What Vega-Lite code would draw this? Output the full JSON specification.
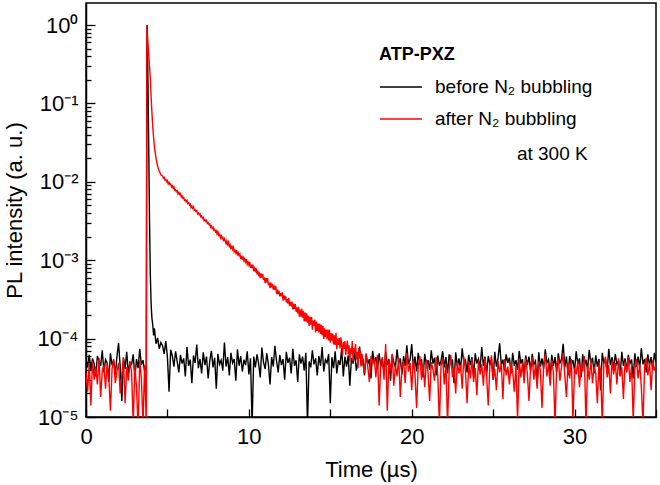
{
"$schema":"https://vega.github.io/schema/vega-lite/v6.json",
"width":570,"height":414,
"autosize":{"type":"none"},
"padding":{"left":86,"top":3,"right":4,"bottom":68},
"config":{"view":{"stroke":"#000","strokeWidth":1.5},"font":"Liberation Sans",
"axis":{"grid":false,"domainColor":"#000","domainWidth":1.5,"tickColor":"#000","tickWidth":1.3,"labelColor":"#000","titleColor":"#000","labelFontSize":22,"titleFontSize":22,"titleFontWeight":"normal","labelFlush":false,"labelOverlap":false},
"legend":{"labelColor":"#000","titleColor":"#000"}},
"datasets":{
"before":[
{"t":0.0,"v":5.1e-5},{"t":0.1,"v":4.3e-5},{"t":0.2,"v":6.2e-5},{"t":0.3,"v":3.9e-5},{"t":0.4,"v":5.6e-5},{"t":0.5,"v":4.8e-5},{"t":0.6,"v":3.3e-5},{"t":0.7,"v":6.0e-5},{"t":0.8,"v":5.2e-5},{"t":0.9,"v":4.5e-5},
{"t":1.0,"v":7.1e-5},{"t":1.1,"v":3.7e-5},{"t":1.2,"v":5.4e-5},{"t":1.3,"v":4.9e-5},{"t":1.4,"v":2.8e-5},{"t":1.5,"v":6.5e-5},{"t":1.6,"v":4.6e-5},{"t":1.7,"v":5.3e-5},{"t":1.8,"v":3.5e-5},{"t":1.9,"v":5.9e-5},
{"t":2.0,"v":8.8e-5},{"t":2.1,"v":4.4e-5},{"t":2.2,"v":1.6e-5},{"t":2.3,"v":5.7e-5},{"t":2.4,"v":4.1e-5},{"t":2.5,"v":6.8e-5},{"t":2.6,"v":3.6e-5},{"t":2.7,"v":5.0e-5},{"t":2.8,"v":4.7e-5},{"t":2.9,"v":6.3e-5},
{"t":3.0,"v":3.1e-5},{"t":3.1,"v":5.5e-5},{"t":3.2,"v":4.2e-5},{"t":3.3,"v":7.4e-5},{"t":3.4,"v":4.6e-5},{"t":3.5,"v":5.3e-5},{"t":3.6,"v":3.8e-5},
{"t":3.70,"v":4.5e-5},{"t":3.74,"v":0.5},{"t":3.76,"v":1.0},{"t":3.80,"v":0.22},{"t":3.85,"v":0.03},{"t":3.90,"v":3.2e-3},{"t":3.95,"v":6.5e-4},{"t":4.00,"v":2.7e-4},{"t":4.05,"v":1.8e-4},{"t":4.10,"v":1.5e-4},{"t":4.15,"v":1.1e-4},{"t":4.20,"v":1.35e-4},{"t":4.30,"v":8.6e-5},{"t":4.40,"v":1.02e-4},{"t":4.50,"v":7.4e-5},{"t":4.60,"v":8.9e-5},
{"t":4.7,"v":8.1e-5},{"t":4.8,"v":6.4e-5},{"t":4.9,"v":9.3e-5},{"t":5.0,"v":5.8e-5},{"t":5.1,"v":2.1e-5},{"t":5.2,"v":7.2e-5},{"t":5.3,"v":6.0e-5},{"t":5.4,"v":4.4e-5},{"t":5.5,"v":6.9e-5},{"t":5.6,"v":5.1e-5},
{"t":5.7,"v":3.7e-5},{"t":5.8,"v":6.2e-5},{"t":5.9,"v":4.8e-5},{"t":6.0,"v":5.6e-5},{"t":6.1,"v":3.3e-5},{"t":6.2,"v":7.8e-5},{"t":6.3,"v":4.5e-5},{"t":6.4,"v":5.4e-5},{"t":6.5,"v":2.7e-5},{"t":6.6,"v":6.1e-5},
{"t":6.7,"v":4.9e-5},{"t":6.8,"v":8.4e-5},{"t":6.9,"v":4.2e-5},{"t":7.0,"v":5.5e-5},{"t":7.1,"v":3.6e-5},{"t":7.2,"v":6.7e-5},{"t":7.3,"v":4.6e-5},{"t":7.4,"v":5.9e-5},{"t":7.5,"v":3.1e-5},{"t":7.6,"v":5.2e-5},
{"t":7.7,"v":7.0e-5},{"t":7.8,"v":4.3e-5},{"t":7.9,"v":5.7e-5},{"t":8.0,"v":2.3e-5},{"t":8.1,"v":6.4e-5},{"t":8.2,"v":4.7e-5},{"t":8.3,"v":5.3e-5},{"t":8.4,"v":3.9e-5},{"t":8.5,"v":8.9e-5},{"t":8.6,"v":4.4e-5},
{"t":8.7,"v":5.8e-5},{"t":8.8,"v":3.4e-5},{"t":8.9,"v":6.6e-5},{"t":9.0,"v":4.9e-5},{"t":9.1,"v":5.5e-5},{"t":9.2,"v":2.9e-5},{"t":9.3,"v":7.3e-5},{"t":9.4,"v":4.5e-5},{"t":9.5,"v":6.0e-5},{"t":9.6,"v":3.8e-5},
{"t":9.7,"v":5.4e-5},{"t":9.8,"v":4.6e-5},{"t":9.9,"v":6.9e-5},{"t":10.0,"v":3.5e-5},{"t":10.1,"v":5.6e-5},{"t":10.2,"v":8e-6},{"t":10.3,"v":5.9e-5},{"t":10.4,"v":4.3e-5},{"t":10.5,"v":6.3e-5},{"t":10.6,"v":4.8e-5},
{"t":10.7,"v":3.2e-5},{"t":10.8,"v":7.7e-5},{"t":10.9,"v":5.0e-5},{"t":11.0,"v":4.1e-5},{"t":11.1,"v":6.5e-5},{"t":11.2,"v":4.7e-5},{"t":11.3,"v":2.6e-5},{"t":11.4,"v":5.8e-5},{"t":11.5,"v":4.4e-5},{"t":11.6,"v":8.1e-5},
{"t":11.7,"v":5.2e-5},{"t":11.8,"v":3.7e-5},{"t":11.9,"v":6.2e-5},{"t":12.0,"v":4.6e-5},{"t":12.1,"v":5.5e-5},{"t":12.2,"v":3.0e-5},{"t":12.3,"v":6.8e-5},{"t":12.4,"v":4.9e-5},{"t":12.5,"v":5.7e-5},{"t":12.6,"v":3.6e-5},
{"t":12.7,"v":7.4e-5},{"t":12.8,"v":4.5e-5},{"t":12.9,"v":5.3e-5},{"t":13.0,"v":2.8e-5},{"t":13.1,"v":6.3e-5},{"t":13.2,"v":4.8e-5},{"t":13.3,"v":5.9e-5},{"t":13.4,"v":3.9e-5},{"t":13.5,"v":6.6e-5},{"t":13.6,"v":8e-6},
{"t":13.7,"v":5.1e-5},{"t":13.8,"v":4.3e-5},{"t":13.9,"v":7.1e-5},{"t":14.0,"v":4.7e-5},{"t":14.1,"v":5.6e-5},{"t":14.2,"v":3.4e-5},{"t":14.3,"v":6.0e-5},{"t":14.4,"v":4.5e-5},{"t":14.5,"v":7.8e-5},{"t":14.6,"v":3.8e-5},
{"t":14.7,"v":5.4e-5},{"t":14.8,"v":4.9e-5},{"t":14.9,"v":6.4e-5},{"t":15.0,"v":1.5e-5},{"t":15.1,"v":5.8e-5},{"t":15.2,"v":4.2e-5},{"t":15.3,"v":6.9e-5},{"t":15.4,"v":3.6e-5},{"t":15.5,"v":5.3e-5},{"t":15.6,"v":4.6e-5},
{"t":15.7,"v":7.5e-5},{"t":15.8,"v":3.3e-5},{"t":15.9,"v":5.9e-5},{"t":16.0,"v":4.4e-5},{"t":16.1,"v":6.1e-5},{"t":16.2,"v":2.5e-5},{"t":16.3,"v":5.7e-5},{"t":16.4,"v":4.8e-5},{"t":16.5,"v":6.7e-5},{"t":16.6,"v":3.9e-5},
{"t":16.7,"v":5.2e-5},{"t":16.8,"v":7.9e-5},{"t":16.9,"v":4.5e-5},{"t":17.0,"v":5.6e-5},{"t":17.1,"v":3.4e-5},{"t":17.2,"v":6.3e-5},{"t":17.3,"v":4.7e-5},{"t":17.4,"v":5.5e-5},{"t":17.5,"v":3.1e-5},{"t":17.6,"v":7.0e-5},
{"t":17.7,"v":4.9e-5},{"t":17.8,"v":5.8e-5},{"t":17.9,"v":4.1e-5},{"t":18.0,"v":6.5e-5},{"t":18.1,"v":4.4e-5},{"t":18.2,"v":5.3e-5},{"t":18.3,"v":3.7e-5},{"t":18.4,"v":6.8e-5},{"t":18.5,"v":4.6e-5},{"t":18.6,"v":5.5e-5},
{"t":18.7,"v":2.9e-5},{"t":18.8,"v":6.2e-5},{"t":18.9,"v":5.0e-5},{"t":19.0,"v":4.3e-5},{"t":19.1,"v":7.3e-5},{"t":19.2,"v":4.8e-5},{"t":19.3,"v":5.6e-5},{"t":19.4,"v":3.5e-5},{"t":19.5,"v":6.0e-5},{"t":19.6,"v":4.5e-5},
{"t":19.7,"v":8.2e-5},{"t":19.8,"v":4.7e-5},{"t":19.9,"v":5.4e-5},{"t":20.0,"v":8.5e-5},{"t":20.1,"v":4.2e-5},{"t":20.2,"v":5.9e-5},{"t":20.3,"v":3.8e-5},{"t":20.4,"v":6.6e-5},{"t":20.5,"v":4.9e-5},{"t":20.6,"v":5.5e-5},
{"t":20.7,"v":3.2e-5},{"t":20.8,"v":6.4e-5},{"t":20.9,"v":4.6e-5},{"t":21.0,"v":5.3e-5},{"t":21.1,"v":4.0e-5},{"t":21.2,"v":7.1e-5},{"t":21.3,"v":4.8e-5},{"t":21.4,"v":5.7e-5},{"t":21.5,"v":3.4e-5},{"t":21.6,"v":6.1e-5},
{"t":21.7,"v":4.5e-5},{"t":21.8,"v":5.2e-5},{"t":21.9,"v":6.9e-5},{"t":22.0,"v":4.3e-5},{"t":22.1,"v":5.8e-5},{"t":22.2,"v":3.6e-5},{"t":22.3,"v":6.3e-5},{"t":22.4,"v":4.7e-5},{"t":22.5,"v":5.4e-5},{"t":22.6,"v":2.7e-5},
{"t":22.7,"v":6.7e-5},{"t":22.8,"v":4.4e-5},{"t":22.9,"v":5.6e-5},{"t":23.0,"v":4.1e-5},{"t":23.1,"v":7.5e-5},{"t":23.2,"v":4.9e-5},{"t":23.3,"v":5.3e-5},{"t":23.4,"v":3.7e-5},{"t":23.5,"v":6.2e-5},{"t":23.6,"v":4.6e-5},
{"t":23.7,"v":5.8e-5},{"t":23.8,"v":3.3e-5},{"t":23.9,"v":6.5e-5},{"t":24.0,"v":4.8e-5},{"t":24.1,"v":5.5e-5},{"t":24.2,"v":4.2e-5},{"t":24.3,"v":7.8e-5},{"t":24.4,"v":4.5e-5},{"t":24.5,"v":5.9e-5},{"t":24.6,"v":3.5e-5},
{"t":24.7,"v":6.0e-5},{"t":24.8,"v":4.7e-5},{"t":24.9,"v":5.2e-5},{"t":25.0,"v":3.0e-5},{"t":25.1,"v":6.8e-5},{"t":25.2,"v":4.4e-5},{"t":25.3,"v":5.6e-5},{"t":25.4,"v":8.8e-5},{"t":25.5,"v":4.6e-5},{"t":25.6,"v":5.4e-5},
{"t":25.7,"v":3.9e-5},{"t":25.8,"v":6.3e-5},{"t":25.9,"v":4.9e-5},{"t":26.0,"v":5.7e-5},{"t":26.1,"v":3.6e-5},{"t":26.2,"v":6.6e-5},{"t":26.3,"v":4.5e-5},{"t":26.4,"v":5.3e-5},{"t":26.5,"v":4.0e-5},{"t":26.6,"v":7.0e-5},
{"t":26.7,"v":4.8e-5},{"t":26.8,"v":5.5e-5},{"t":26.9,"v":3.3e-5},{"t":27.0,"v":6.1e-5},{"t":27.1,"v":4.6e-5},{"t":27.2,"v":5.9e-5},{"t":27.3,"v":3.8e-5},{"t":27.4,"v":6.4e-5},{"t":27.5,"v":4.7e-5},{"t":27.6,"v":5.2e-5},
{"t":27.7,"v":2.6e-5},{"t":27.8,"v":6.7e-5},{"t":27.9,"v":4.4e-5},{"t":28.0,"v":5.6e-5},{"t":28.1,"v":4.1e-5},{"t":28.2,"v":7.3e-5},{"t":28.3,"v":4.9e-5},{"t":28.4,"v":5.4e-5},{"t":28.5,"v":3.5e-5},{"t":28.6,"v":6.2e-5},
{"t":28.7,"v":4.5e-5},{"t":28.8,"v":5.8e-5},{"t":28.9,"v":3.7e-5},{"t":29.0,"v":6.5e-5},{"t":29.1,"v":4.8e-5},{"t":29.2,"v":5.5e-5},{"t":29.3,"v":8.6e-5},{"t":29.4,"v":4.3e-5},{"t":29.5,"v":5.9e-5},{"t":29.6,"v":3.4e-5},
{"t":29.7,"v":6.0e-5},{"t":29.8,"v":4.6e-5},{"t":29.9,"v":5.3e-5},{"t":30.0,"v":3.9e-5},{"t":30.1,"v":6.9e-5},{"t":30.2,"v":4.7e-5},{"t":30.3,"v":5.6e-5},{"t":30.4,"v":3.2e-5},{"t":30.5,"v":6.3e-5},{"t":30.6,"v":4.5e-5},
{"t":30.7,"v":5.4e-5},{"t":30.8,"v":4.0e-5},{"t":30.9,"v":7.2e-5},{"t":31.0,"v":4.8e-5},{"t":31.1,"v":5.7e-5},{"t":31.2,"v":3.6e-5},{"t":31.3,"v":6.1e-5},{"t":31.4,"v":4.4e-5},{"t":31.5,"v":5.5e-5},{"t":31.6,"v":2.2e-5},
{"t":31.7,"v":6.6e-5},{"t":31.8,"v":4.9e-5},{"t":31.9,"v":5.3e-5},{"t":32.0,"v":3.8e-5},{"t":32.1,"v":7.4e-5},{"t":32.2,"v":4.6e-5},{"t":32.3,"v":5.8e-5},{"t":32.4,"v":4.2e-5},{"t":32.5,"v":6.4e-5},{"t":32.6,"v":4.7e-5},
{"t":32.7,"v":5.2e-5},{"t":32.8,"v":3.4e-5},{"t":32.9,"v":6.8e-5},{"t":33.0,"v":4.5e-5},{"t":33.1,"v":5.6e-5},{"t":33.2,"v":3.9e-5},{"t":33.3,"v":6.2e-5},{"t":33.4,"v":4.8e-5},{"t":33.5,"v":5.4e-5},{"t":33.6,"v":3.1e-5},
{"t":33.7,"v":6.5e-5},{"t":33.8,"v":4.4e-5},{"t":33.9,"v":5.9e-5},{"t":34.0,"v":4.2e-5},{"t":34.1,"v":7.6e-5},{"t":34.2,"v":4.7e-5},{"t":34.3,"v":5.5e-5},{"t":34.4,"v":3.7e-5},{"t":34.5,"v":6.3e-5},{"t":34.6,"v":4.6e-5},
{"t":34.7,"v":5.8e-5},{"t":34.8,"v":4.0e-5},{"t":34.9,"v":6.6e-5},{"t":35.0,"v":5.0e-5}
],
"after":[
{"t":0.0,"v":3.6e-5},{"t":0.1,"v":2.1e-5},{"t":0.2,"v":4.8e-5},{"t":0.3,"v":1.4e-5},{"t":0.4,"v":5.2e-5},{"t":0.5,"v":3.0e-5},{"t":0.6,"v":4.4e-5},{"t":0.7,"v":2.6e-5},{"t":0.8,"v":5.7e-5},{"t":0.9,"v":1.8e-5},
{"t":1.0,"v":3.9e-5},{"t":1.1,"v":4.6e-5},{"t":1.2,"v":2.3e-5},{"t":1.3,"v":5.0e-5},{"t":1.4,"v":3.3e-5},{"t":1.5,"v":1.2e-5},{"t":1.6,"v":4.1e-5},{"t":1.7,"v":5.5e-5},{"t":1.8,"v":2.7e-5},{"t":1.9,"v":3.8e-5},
{"t":2.0,"v":4.9e-5},{"t":2.1,"v":2.0e-5},{"t":2.2,"v":3.4e-5},{"t":2.3,"v":5.8e-5},{"t":2.4,"v":1.5e-5},{"t":2.5,"v":4.3e-5},{"t":2.6,"v":2.9e-5},{"t":2.7,"v":5.1e-5},{"t":2.8,"v":3.7e-5},{"t":2.9,"v":8e-6},
{"t":3.0,"v":4.5e-5},{"t":3.1,"v":2.4e-5},{"t":3.2,"v":7e-6},{"t":3.3,"v":5.3e-5},{"t":3.4,"v":3.1e-5},{"t":3.5,"v":8e-6},{"t":3.6,"v":4.6e-5},
{"t":3.70,"v":8e-6},{"t":3.74,"v":1.0},{"t":3.76,"v":0.8},{"t":3.80,"v":0.6},{"t":3.85,"v":0.42},{"t":3.90,"v":0.30},{"t":3.95,"v":0.21},{"t":4.00,"v":0.12},{"t":4.05,"v":0.075},{"t":4.10,"v":0.05},{"t":4.15,"v":0.037},{"t":4.20,"v":0.028},{"t":4.30,"v":0.020},{"t":4.40,"v":0.0158},{"t":4.50,"v":0.0136},{"t":4.60,"v":0.0123},
{"t":4.70,"v":1.19e-2},{"t":4.75,"v":1.11e-2},{"t":4.80,"v":1.14e-2},{"t":4.85,"v":1.05e-2},{"t":4.90,"v":1.07e-2},{"t":4.95,"v":1.01e-2},{"t":5.00,"v":1.04e-2},{"t":5.05,"v":9.4e-3},{"t":5.10,"v":9.8e-3},{"t":5.15,"v":9.2e-3},
{"t":5.20,"v":9.4e-3},{"t":5.25,"v":8.6e-3},{"t":5.30,"v":8.9e-3},{"t":5.35,"v":8.3e-3},{"t":5.40,"v":8.6e-3},{"t":5.45,"v":7.8e-3},{"t":5.50,"v":7.9e-3},{"t":5.55,"v":7.5e-3},{"t":5.60,"v":7.7e-3},{"t":5.65,"v":7.0e-3},
{"t":5.70,"v":7.3e-3},{"t":5.75,"v":6.9e-3},{"t":5.80,"v":7.1e-3},{"t":5.85,"v":6.4e-3},{"t":5.90,"v":6.6e-3},{"t":5.95,"v":6.2e-3},{"t":6.00,"v":6.3e-3},{"t":6.05,"v":5.8e-3},{"t":6.10,"v":5.9e-3},{"t":6.15,"v":5.6e-3},
{"t":6.20,"v":5.8e-3},{"t":6.25,"v":5.3e-3},{"t":6.30,"v":5.4e-3},{"t":6.35,"v":5.1e-3},{"t":6.40,"v":5.2e-3},{"t":6.45,"v":4.7e-3},{"t":6.50,"v":4.9e-3},{"t":6.55,"v":4.6e-3},{"t":6.60,"v":4.8e-3},{"t":6.65,"v":4.35e-3},
{"t":6.70,"v":4.4e-3},{"t":6.75,"v":4.2e-3},{"t":6.80,"v":4.3e-3},{"t":6.85,"v":3.9e-3},{"t":6.90,"v":4.0e-3},{"t":6.95,"v":3.8e-3},{"t":7.00,"v":3.9e-3},{"t":7.05,"v":3.57e-3},{"t":7.10,"v":3.66e-3},{"t":7.15,"v":3.44e-3},
{"t":7.20,"v":3.52e-3},{"t":7.25,"v":3.21e-3},{"t":7.30,"v":3.29e-3},{"t":7.35,"v":3.12e-3},{"t":7.40,"v":3.22e-3},{"t":7.45,"v":2.94e-3},{"t":7.50,"v":3.01e-3},{"t":7.55,"v":2.85e-3},{"t":7.60,"v":2.89e-3},{"t":7.65,"v":2.63e-3},
{"t":7.70,"v":2.73e-3},{"t":7.75,"v":2.56e-3},{"t":7.80,"v":2.65e-3},{"t":7.85,"v":2.42e-3},{"t":7.90,"v":2.48e-3},{"t":7.95,"v":2.32e-3},
{"t":8.00,"v":2.38e-3},{"t":8.05,"v":2.16e-3},{"t":8.10,"v":2.31e-3},{"t":8.15,"v":2.08e-3},{"t":8.20,"v":2.13e-3},{"t":8.25,"v":1.94e-3},{"t":8.30,"v":2.11e-3},{"t":8.35,"v":1.90e-3},{"t":8.40,"v":1.96e-3},{"t":8.45,"v":1.74e-3},
{"t":8.50,"v":1.88e-3},{"t":8.55,"v":1.78e-3},{"t":8.60,"v":1.63e-3},{"t":8.65,"v":1.76e-3},{"t":8.70,"v":1.59e-3},{"t":8.75,"v":1.70e-3},{"t":8.80,"v":1.50e-3},{"t":8.85,"v":1.57e-3},{"t":8.90,"v":1.39e-3},{"t":8.95,"v":1.53e-3},
{"t":9.00,"v":1.38e-3},{"t":9.05,"v":1.47e-3},{"t":9.10,"v":1.28e-3},{"t":9.15,"v":1.34e-3},{"t":9.20,"v":1.24e-3},{"t":9.25,"v":1.35e-3},{"t":9.30,"v":1.15e-3},{"t":9.35,"v":1.24e-3},{"t":9.40,"v":1.15e-3},{"t":9.45,"v":1.20e-3},
{"t":9.50,"v":1.03e-3},{"t":9.55,"v":1.14e-3},{"t":9.60,"v":1.02e-3},{"t":9.65,"v":1.12e-3},{"t":9.70,"v":9.8e-4},{"t":9.75,"v":1.04e-3},{"t":9.80,"v":9.5e-4},{"t":9.85,"v":1.03e-3},{"t":9.90,"v":8.9e-4},{"t":9.95,"v":9.5e-4},
{"t":10.00,"v":8.7e-4},{"t":10.05,"v":9.5e-4},{"t":10.10,"v":8.0e-4},{"t":10.15,"v":8.8e-4},{"t":10.20,"v":7.9e-4},{"t":10.25,"v":8.8e-4},{"t":10.30,"v":7.2e-4},{"t":10.35,"v":7.9e-4},{"t":10.40,"v":7.3e-4},{"t":10.45,"v":7.9e-4},
{"t":10.50,"v":6.6e-4},{"t":10.55,"v":7.35e-4},{"t":10.60,"v":6.5e-4},{"t":10.65,"v":6.8e-4},{"t":10.70,"v":5.9e-4},{"t":10.75,"v":6.8e-4},{"t":10.80,"v":6.0e-4},{"t":10.85,"v":6.7e-4},{"t":10.90,"v":5.6e-4},{"t":10.95,"v":6.05e-4},
{"t":11.00,"v":5.1e-4},{"t":11.05,"v":5.9e-4},{"t":11.10,"v":5.2e-4},{"t":11.15,"v":5.9e-4},{"t":11.20,"v":4.8e-4},{"t":11.25,"v":5.2e-4},{"t":11.30,"v":4.4e-4},{"t":11.35,"v":5.2e-4},{"t":11.40,"v":4.5e-4},{"t":11.45,"v":5.0e-4},
{"t":11.50,"v":4.2e-4},{"t":11.55,"v":4.6e-4},{"t":11.60,"v":4.2e-4},{"t":11.65,"v":4.7e-4},{"t":11.70,"v":3.7e-4},{"t":11.75,"v":4.2e-4},{"t":11.80,"v":3.7e-4},{"t":11.85,"v":4.1e-4},{"t":11.90,"v":3.45e-4},{"t":11.95,"v":3.8e-4},
{"t":12.00,"v":3.45e-4},{"t":12.05,"v":3.9e-4},{"t":12.10,"v":3.05e-4},{"t":12.15,"v":3.55e-4},{"t":12.20,"v":3.15e-4},{"t":12.25,"v":3.5e-4},{"t":12.30,"v":2.9e-4},{"t":12.35,"v":3.2e-4},{"t":12.40,"v":2.8e-4},{"t":12.45,"v":3.3e-4},
{"t":12.50,"v":2.6e-4},{"t":12.55,"v":2.95e-4},{"t":12.60,"v":2.7e-4},{"t":12.65,"v":2.95e-4},{"t":12.70,"v":2.35e-4},{"t":12.75,"v":2.8e-4},{"t":12.80,"v":2.4e-4},{"t":12.85,"v":2.75e-4},{"t":12.90,"v":2.2e-4},{"t":12.95,"v":2.5e-4},
{"t":13.00,"v":2.1e-4},{"t":13.05,"v":2.55e-4},{"t":13.10,"v":1.9e-4},{"t":13.15,"v":2.35e-4},{"t":13.20,"v":1.9e-4},{"t":13.25,"v":2.4e-4},{"t":13.30,"v":1.85e-4},{"t":13.35,"v":2.25e-4},{"t":13.40,"v":1.65e-4},{"t":13.45,"v":2.15e-4},
{"t":13.50,"v":1.65e-4},{"t":13.55,"v":2.1e-4},{"t":13.60,"v":1.6e-4},{"t":13.65,"v":1.95e-4},{"t":13.70,"v":1.45e-4},{"t":13.75,"v":1.9e-4},{"t":13.80,"v":1.5e-4},{"t":13.85,"v":1.9e-4},{"t":13.90,"v":1.3e-4},{"t":13.95,"v":1.7e-4},
{"t":14.00,"v":1.45e-4},{"t":14.05,"v":1.75e-4},{"t":14.10,"v":1.2e-4},{"t":14.15,"v":1.65e-4},{"t":14.20,"v":1.25e-4},{"t":14.25,"v":1.55e-4},{"t":14.30,"v":1.2e-4},{"t":14.35,"v":1.55e-4},{"t":14.40,"v":1.15e-4},{"t":14.45,"v":1.5e-4},
{"t":14.50,"v":1.1e-4},{"t":14.55,"v":1.45e-4},{"t":14.60,"v":9.9e-5},{"t":14.65,"v":1.35e-4},{"t":14.70,"v":1.05e-4},{"t":14.75,"v":1.3e-4},{"t":14.80,"v":9.8e-5},{"t":14.85,"v":1.3e-4},{"t":14.90,"v":9.5e-5},{"t":14.95,"v":1.3e-4},
{"t":15.00,"v":8.9e-5},{"t":15.05,"v":1.18e-4},{"t":15.10,"v":9.4e-5},{"t":15.15,"v":1.16e-4},{"t":15.20,"v":8.4e-5},{"t":15.25,"v":1.1e-4},{"t":15.30,"v":8.3e-5},{"t":15.35,"v":1.19e-4},{"t":15.40,"v":7.3e-5},{"t":15.45,"v":1.0e-4},
{"t":15.50,"v":8.3e-5},{"t":15.55,"v":1.02e-4},{"t":15.60,"v":7.5e-5},{"t":15.65,"v":1.04e-4},{"t":15.70,"v":8.3e-5},{"t":15.75,"v":6.1e-5},{"t":15.80,"v":9.0e-5},{"t":15.85,"v":7.4e-5},{"t":15.90,"v":9.3e-5},{"t":15.95,"v":6.2e-5},
{"t":16.00,"v":8.0e-5},{"t":16.05,"v":9.4e-5},{"t":16.10,"v":6.3e-5},{"t":16.15,"v":8.2e-5},{"t":16.20,"v":5.1e-5},{"t":16.25,"v":7.5e-5},{"t":16.30,"v":6.4e-5},{"t":16.35,"v":9.3e-5},{"t":16.40,"v":5.2e-5},{"t":16.45,"v":7.6e-5},
{"t":16.50,"v":6.6e-5},{"t":16.55,"v":8.5e-5},{"t":16.60,"v":5.4e-5},{"t":16.65,"v":6.8e-5},{"t":16.70,"v":4.2e-5},{"t":16.75,"v":7.6e-5},{"t":16.80,"v":5.6e-5},{"t":16.85,"v":7.0e-5},{"t":16.90,"v":4.4e-5},{"t":16.95,"v":6.4e-5},
{"t":17.0,"v":4.8e-5},{"t":17.1,"v":3.6e-5},{"t":17.2,"v":6.5e-5},{"t":17.3,"v":4.4e-5},{"t":17.4,"v":2.8e-5},{"t":17.5,"v":6.0e-5},{"t":17.6,"v":4.7e-5},
{"t":17.7,"v":5.6e-5},{"t":17.8,"v":3.2e-5},{"t":17.9,"v":6.2e-5},{"t":18.0,"v":1.4e-5},{"t":18.1,"v":4.9e-5},{"t":18.2,"v":5.8e-5},{"t":18.3,"v":3.0e-5},{"t":18.4,"v":8.5e-5},{"t":18.5,"v":1.2e-5},{"t":18.6,"v":5.3e-5},
{"t":18.7,"v":3.9e-5},{"t":18.8,"v":6.4e-5},{"t":18.9,"v":2.5e-5},{"t":19.0,"v":4.6e-5},{"t":19.1,"v":3.3e-5},{"t":19.2,"v":5.7e-5},{"t":19.3,"v":1.8e-5},{"t":19.4,"v":4.2e-5},{"t":19.5,"v":5.2e-5},{"t":19.6,"v":2.7e-5},
{"t":19.7,"v":6.6e-5},{"t":19.8,"v":3.8e-5},{"t":19.9,"v":4.9e-5},{"t":20.0,"v":2.2e-5},{"t":20.1,"v":5.5e-5},{"t":20.2,"v":3.5e-5},{"t":20.3,"v":1.3e-5},{"t":20.4,"v":4.4e-5},{"t":20.5,"v":6.0e-5},{"t":20.6,"v":3.0e-5},
{"t":20.7,"v":4.7e-5},{"t":20.8,"v":2.4e-5},{"t":20.9,"v":5.4e-5},{"t":21.0,"v":3.7e-5},{"t":21.1,"v":1.6e-5},{"t":21.2,"v":5.0e-5},{"t":21.3,"v":4.1e-5},{"t":21.4,"v":2.9e-5},{"t":21.5,"v":5.8e-5},{"t":21.6,"v":3.4e-5},
{"t":21.7,"v":8e-6},{"t":21.8,"v":4.5e-5},{"t":21.9,"v":5.6e-5},{"t":22.0,"v":2.6e-5},{"t":22.1,"v":4.8e-5},{"t":22.2,"v":8e-6},{"t":22.3,"v":3.9e-5},{"t":22.4,"v":6.2e-5},{"t":22.5,"v":3.2e-5},{"t":22.6,"v":4.3e-5},
{"t":22.7,"v":2.0e-5},{"t":22.8,"v":5.1e-5},{"t":22.9,"v":3.6e-5},{"t":23.0,"v":4.6e-5},{"t":23.1,"v":2.3e-5},{"t":23.2,"v":5.9e-5},{"t":23.3,"v":3.8e-5},{"t":23.4,"v":1.5e-5},{"t":23.5,"v":4.9e-5},{"t":23.6,"v":3.1e-5},
{"t":23.7,"v":5.5e-5},{"t":23.8,"v":2.8e-5},{"t":23.9,"v":4.2e-5},{"t":24.0,"v":1.9e-5},{"t":24.1,"v":5.3e-5},{"t":24.2,"v":3.5e-5},{"t":24.3,"v":4.7e-5},{"t":24.4,"v":2.5e-5},{"t":24.5,"v":5.7e-5},{"t":24.6,"v":3.3e-5},
{"t":24.7,"v":1.4e-5},{"t":24.8,"v":4.5e-5},{"t":24.9,"v":6.1e-5},{"t":25.0,"v":3.0e-5},{"t":25.1,"v":4.1e-5},{"t":25.2,"v":2.2e-5},{"t":25.3,"v":5.2e-5},{"t":25.4,"v":3.7e-5},{"t":25.5,"v":4.8e-5},{"t":25.6,"v":1.7e-5},
{"t":25.7,"v":5.5e-5},{"t":25.8,"v":3.4e-5},{"t":25.9,"v":4.4e-5},{"t":26.0,"v":2.6e-5},{"t":26.1,"v":5.0e-5},{"t":26.2,"v":3.8e-5},{"t":26.3,"v":2.1e-5},{"t":26.4,"v":4.6e-5},{"t":26.5,"v":9e-6},{"t":26.6,"v":5.4e-5},
{"t":26.7,"v":3.2e-5},{"t":26.8,"v":4.9e-5},{"t":26.9,"v":2.7e-5},{"t":27.0,"v":5.6e-5},{"t":27.1,"v":3.6e-5},{"t":27.2,"v":1.6e-5},{"t":27.3,"v":4.3e-5},{"t":27.4,"v":5.8e-5},{"t":27.5,"v":3.0e-5},{"t":27.6,"v":4.7e-5},
{"t":27.7,"v":2.3e-5},{"t":27.8,"v":5.1e-5},{"t":27.9,"v":3.9e-5},{"t":28.0,"v":1.3e-5},{"t":28.1,"v":4.5e-5},{"t":28.2,"v":6.3e-5},{"t":28.3,"v":3.3e-5},{"t":28.4,"v":4.8e-5},{"t":28.5,"v":2.5e-5},{"t":28.6,"v":5.3e-5},
{"t":28.7,"v":3.7e-5},{"t":28.8,"v":8e-6},{"t":28.9,"v":4.6e-5},{"t":29.0,"v":5.7e-5},{"t":29.1,"v":2.9e-5},{"t":29.2,"v":4.4e-5},{"t":29.3,"v":6.5e-5},{"t":29.4,"v":3.4e-5},{"t":29.5,"v":1.8e-5},{"t":29.6,"v":4.9e-5},
{"t":29.7,"v":3.1e-5},{"t":29.8,"v":5.5e-5},{"t":29.9,"v":9e-6},{"t":30.0,"v":4.2e-5},{"t":30.1,"v":3.5e-5},{"t":30.2,"v":5.2e-5},{"t":30.3,"v":2.4e-5},{"t":30.4,"v":4.7e-5},{"t":30.5,"v":3.8e-5},{"t":30.6,"v":6.0e-5},
{"t":30.7,"v":8e-6},{"t":30.8,"v":4.5e-5},{"t":30.9,"v":3.0e-5},{"t":31.0,"v":5.4e-5},{"t":31.1,"v":2.7e-5},{"t":31.2,"v":4.4e-5},{"t":31.3,"v":3.6e-5},{"t":31.4,"v":1.5e-5},{"t":31.5,"v":5.0e-5},{"t":31.6,"v":3.9e-5},
{"t":31.7,"v":8e-6},{"t":31.8,"v":4.8e-5},{"t":31.9,"v":5.9e-5},{"t":32.0,"v":3.2e-5},{"t":32.1,"v":4.6e-5},{"t":32.2,"v":2.0e-5},{"t":32.3,"v":5.3e-5},{"t":32.4,"v":3.5e-5},{"t":32.5,"v":4.9e-5},{"t":32.6,"v":2.6e-5},
{"t":32.7,"v":5.6e-5},{"t":32.8,"v":3.3e-5},{"t":32.9,"v":4.3e-5},{"t":33.0,"v":1.7e-5},{"t":33.1,"v":5.1e-5},{"t":33.2,"v":3.7e-5},{"t":33.3,"v":5.8e-5},{"t":33.4,"v":2.8e-5},{"t":33.5,"v":4.5e-5},{"t":33.6,"v":9e-6},
{"t":33.7,"v":4.0e-5},{"t":33.8,"v":5.5e-5},{"t":33.9,"v":3.1e-5},{"t":34.0,"v":4.7e-5},{"t":34.1,"v":2.4e-5},{"t":34.2,"v":8e-6},{"t":34.3,"v":4.4e-5},{"t":34.4,"v":5.7e-5},{"t":34.5,"v":3.4e-5},{"t":34.6,"v":4.9e-5},
{"t":34.7,"v":2.2e-5},{"t":34.8,"v":5.3e-5},{"t":34.9,"v":3.9e-5},{"t":35.0,"v":4.6e-5}
]},
"layer":[
{"data":{"name":"before"},
"mark":{"type":"line","strokeWidth":1.4,"clip":true},
"encoding":{
"x":{"field":"t","type":"quantitative","scale":{"domain":[0,35],"nice":false,"zero":false},
"axis":{"title":"Time (µs)","values":[0,5,10,15,20,25,30,35],"labelExpr":"datum.value % 10 == 0 ? datum.label : ''","tickSize":-8,"labelPadding":17,"titleY":59,"titleBaseline":"alphabetic"}},
"y":{"field":"v","type":"quantitative","scale":{"type":"log","domain":[1e-5,1.91],"nice":false},
"axis":{"title":"PL intensity (a. u.)","values":[1e-5,2e-5,3e-5,4e-5,5e-5,6e-5,7e-5,8e-5,9e-5,1e-4,2e-4,3e-4,4e-4,5e-4,6e-4,7e-4,8e-4,9e-4,1e-3,2e-3,3e-3,4e-3,5e-3,6e-3,7e-3,8e-3,9e-3,1e-2,2e-2,3e-2,4e-2,5e-2,6e-2,7e-2,8e-2,9e-2,0.1,0.2,0.3,0.4,0.5,0.6,0.7,0.8,0.9,1],
"labelExpr":"abs(log(datum.value)/LN10 - round(log(datum.value)/LN10)) < 0.001 ? ['10⁰','10⁻¹','10⁻²','10⁻³','10⁻⁴','10⁻⁵'][-round(log(datum.value)/LN10)] : ''",
"tickSize":{"condition":{"test":"abs(log(datum.value)/LN10 - round(log(datum.value)/LN10)) < 0.001","value":-9},"value":-5},
"labelPadding":17,"titleX":-65,"titleY":207,"titleAngle":-90,"titleBaseline":"alphabetic","titleAlign":"center"}},
"color":{"datum":"before N₂ bubbling","type":"nominal","scale":{"domain":["before N₂ bubbling","after N₂ bubbling"],"range":["#000000","#ff0000"]},
"legend":{"title":"ATP-PXZ","orient":"none","legendX":293,"legendY":43,"symbolType":"stroke","symbolSize":1764,"symbolStrokeWidth":1.5,"labelFontSize":19,"titleFontSize":18,"titleFontWeight":"bold","labelOffset":12,"titlePadding":1,"rowPadding":0}}
}},
{"data":{"name":"after"},
"mark":{"type":"line","strokeWidth":1.4,"clip":true},
"encoding":{
"x":{"field":"t","type":"quantitative"},
"y":{"field":"v","type":"quantitative"},
"color":{"datum":"after N₂ bubbling","type":"nominal"}
}},
{"data":{"values":[{"label":"at 300 K"}]},
"mark":{"type":"text","align":"left","baseline":"alphabetic","fontSize":19,"color":"#000"},
"encoding":{"x":{"datum":26.46},"y":{"datum":0.019},"text":{"field":"label"}}}
]
}
